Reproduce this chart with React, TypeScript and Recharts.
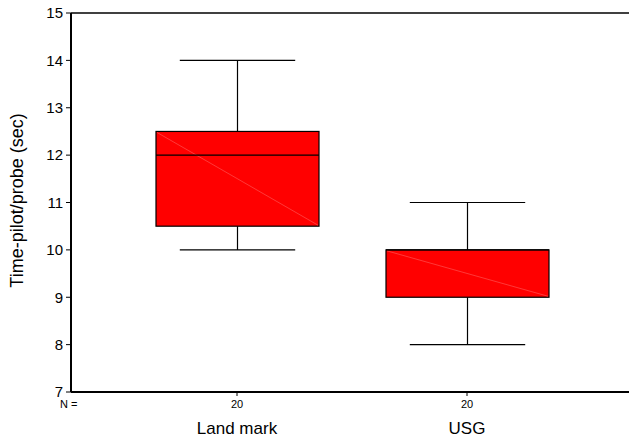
import { ComposedChart, Bar, XAxis, YAxis, ReferenceLine } from "recharts";

const groups: string[] = ["Land mark", "USG"];
const counts: number[] = [20, 20];
const minimums: number[] = [10, 8];
const lowerQuartiles: number[] = [10.5, 9];
const medians: number[] = [12, 10];
const upperQuartiles: number[] = [12.5, 10];
const maximums: number[] = [14, 11];
const yTicks: number[] = [7, 8, 9, 10, 11, 12, 13, 14, 15];

const data = groups.map((name, i) => ({
  name,
  n: counts[i],
  min: minimums[i],
  q1: lowerQuartiles[i],
  median: medians[i],
  q3: upperQuartiles[i],
  max: maximums[i],
  range: [minimums[i], maximums[i]],
}));

const FONT = "'Liberation Sans', Arial, sans-serif";

// draws whiskers + box from the bar's pixel range (min..max)
const BoxShape = (props: any) => {
  const { x, y, width, height, payload } = props;
  if (height == null || width == null) return null;
  const { min, q1, median, q3, max } = payload;
  const ppu = height / (max - min);
  const yOf = (v: number) => y + (max - v) * ppu;
  const cx = x + width / 2;
  const capHalf = width * 0.354;
  const yQ1 = yOf(q1);
  const yQ3 = yOf(q3);
  return (
    <g>
      <line x1={cx} x2={cx} y1={yOf(max)} y2={yQ3} stroke="#000" strokeWidth={1.2} />
      <line x1={cx} x2={cx} y1={yQ1} y2={yOf(min)} stroke="#000" strokeWidth={1.2} />
      <line x1={cx - capHalf} x2={cx + capHalf} y1={yOf(max)} y2={yOf(max)} stroke="#000" strokeWidth={1.2} />
      <line x1={cx - capHalf} x2={cx + capHalf} y1={yOf(min)} y2={yOf(min)} stroke="#000" strokeWidth={1.2} />
      <rect x={x} y={yQ3} width={width} height={yQ1 - yQ3} fill="#ff0000" stroke="#000" strokeWidth={1.2} />
      <line x1={x + 1} y1={yQ3 + 1} x2={x + width - 1} y2={yQ1 - 1} stroke="#ff7070" strokeWidth={0.5} />
      <line x1={x} x2={x + width} y1={yOf(median)} y2={yOf(median)} stroke="#000" strokeWidth={1.2} />
    </g>
  );
};

const CategoryTick = (props: any) => {
  const { x, y, payload, index } = props;
  return (
    <g>
      <text x={x} y={y + 10} textAnchor="middle" fontSize={11} fontFamily={FONT} fill="#000">
        {counts[index]}
      </text>
      <text x={x} y={y + 36} textAnchor="middle" fontSize={17} fontFamily={FONT} fill="#000">
        {payload.value}
      </text>
    </g>
  );
};

const YLabel = (props: any) => {
  const { viewBox } = props;
  const cx = 17;
  const cy = viewBox.y + viewBox.height / 2 - 2;
  return (
    <text
      x={cx}
      y={cy}
      transform={`rotate(-90 ${cx} ${cy})`}
      textAnchor="middle"
      dominantBaseline="central"
      fontSize={18}
      fontFamily={FONT}
      fill="#000"
    >
      Time-pilot/probe (sec)
    </text>
  );
};

export default function App() {
  return (
    <div style={{ position: "absolute", left: 0, top: 0, width: 629, height: 440, background: "#fff" }}>
      <ComposedChart
        width={629}
        height={440}
        data={data}
        margin={{ top: 13, right: 0, bottom: 0, left: 0 }}
      >
        <XAxis
          dataKey="name"
          height={48}
          padding={{ left: 51, right: 47 }}
          axisLine={{ stroke: "#000", strokeWidth: 2 }}
          tickLine={{ stroke: "#000" }}
          tickSize={4}
          tick={<CategoryTick />}
          interval={0}
        />
        <YAxis
          width={71}
          domain={[7, 15]}
          ticks={yTicks}
          type="number"
          allowDataOverflow
          axisLine={{ stroke: "#000", strokeWidth: 2 }}
          tickLine={{ stroke: "#000" }}
          tickSize={5}
          tickMargin={3}
          tick={{ fontSize: 15, fontFamily: FONT, fill: "#000" }}
          label={<YLabel />}
        />
        <ReferenceLine y={15} stroke="#000" strokeWidth={1.5} />
        <Bar dataKey="range" barSize={163} shape={<BoxShape />} isAnimationActive={false} />
      </ComposedChart>
      <div
        style={{
          position: "absolute",
          left: 60,
          top: 398,
          fontSize: 11,
          fontFamily: FONT,
          color: "#000",
        }}
      >
        N =
      </div>
    </div>
  );
}
